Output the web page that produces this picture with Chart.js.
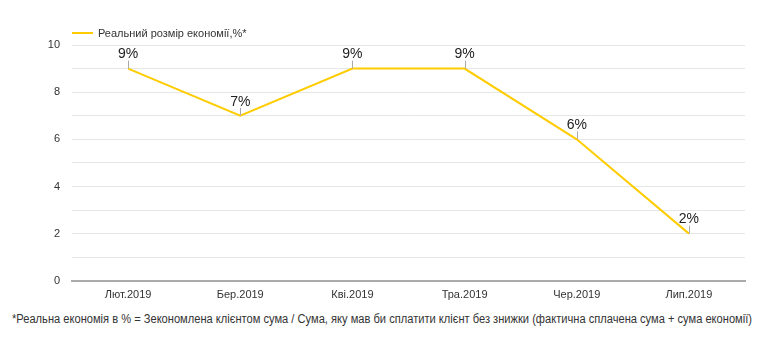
<!DOCTYPE html>
<html>
<head>
<meta charset="utf-8">
<script src="https://cdn.jsdelivr.net/npm/chart.js@4/dist/chart.umd.min.js"></script>
<style>
  html, body { margin: 0; padding: 0; background: #fff; }
  body { width: 780px; height: 357px; position: relative; overflow: hidden; font-family: "Liberation Sans", Arial, sans-serif; }
  #wrap { position: absolute; left: 0; top: 0; width: 780px; height: 310px; }
  #legend { position: absolute; left: 72px; top: 27px; font-size: 11px; color: #333; display: flex; align-items: center; }
  #legend .sw { width: 21px; height: 2px; background: #FFCC00; margin-right: 5px; }
  #note { position: absolute; left: 12px; top: 312px; font-family: "Liberation Sans", Arial, sans-serif; font-size: 12.5px; color: #333; white-space: nowrap; transform-origin: 0 50%; display: inline-block; }
</style>
</head>
<body>
<div id="wrap"><canvas id="c"></canvas></div>
<div id="legend"><span class="sw"></span><span id="legtext"></span></div>
<div id="note"></div>
<script>
const categories = ["Лют.2019", "Бер.2019", "Кві.2019", "Тра.2019", "Чер.2019", "Лип.2019"];
const savings = [9, 7, 9, 9, 6, 2];
const seriesName = "Реальний розмір економії,%*";
const footnote = "*Реальна економія в % = Зекономлена клієнтом сума / Сума, яку мав би сплатити клієнт без знижки (фактична сплачена сума + сума економії)";

document.getElementById('legtext').textContent = seriesName;
const note = document.getElementById('note');
note.textContent = footnote;
const nw = note.getBoundingClientRect().width;
note.style.transform = 'scaleX(' + (740 / nw) + ')';

const labelPlugin = {
  id: 'pointLabels',
  afterDatasetsDraw(chart) {
    const ctx = chart.ctx;
    const meta = chart.getDatasetMeta(0);
    ctx.save();
    meta.data.forEach((pt, i) => {
      const x = pt.x, y = pt.y;
      ctx.strokeStyle = '#aaaaaa';
      ctx.lineWidth = 1;
      ctx.beginPath();
      ctx.moveTo(Math.round(x) + 0.5, y);
      ctx.lineTo(Math.round(x) + 0.5, y - 8);
      ctx.stroke();
      ctx.fillStyle = '#222';
      ctx.font = '14px "Liberation Sans", Arial, sans-serif';
      ctx.textAlign = 'center';
      ctx.textBaseline = 'bottom';
      ctx.fillText(savings[i] + '%', x, y - 7);
    });
    ctx.restore();
  }
};

new Chart(document.getElementById('c'), {
  type: 'line',
  data: {
    labels: categories,
    datasets: [{
      label: seriesName,
      data: savings,
      borderColor: '#FFCC00',
      backgroundColor: '#FFCC00',
      borderWidth: 2,
      pointRadius: 0,
      tension: 0,
      fill: false
    }]
  },
  options: {
    responsive: true,
    maintainAspectRatio: false,
    animation: false,
    layout: { padding: { top: 45, right: 35, left: 0, bottom: 0 } },
    plugins: { legend: { display: false }, tooltip: { enabled: false } },
    scales: {
      x: {
        offset: true,
        grid: { display: false, drawTicks: false },
        border: { display: true, color: '#aaaaaa', width: 2 },
        ticks: { color: '#333', font: { size: 11, family: '"Liberation Sans", Arial, sans-serif' }, padding: 8, maxRotation: 0 }
      },
      y: {
        min: 0, max: 10,
        afterFit(scale) { scale.width = 72; },
        grid: { color: '#e6e6e6', drawTicks: false },
        border: { display: false },
        ticks: {
          stepSize: 1,
          color: '#333',
          padding: 12,
          font: { size: 11, family: '"Liberation Sans", Arial, sans-serif' },
          callback: v => (v % 2 === 0 ? v : '')
        }
      }
    }
  },
  plugins: [labelPlugin]
});
</script>
</body>
</html>
